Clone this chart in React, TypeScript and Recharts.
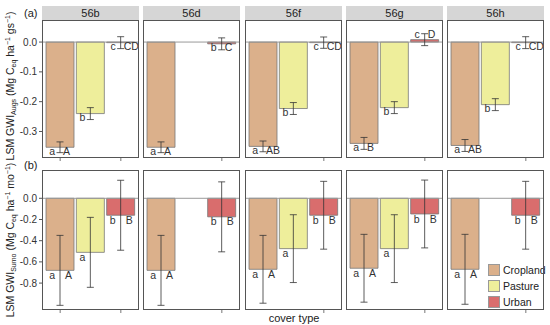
import React from 'react';
import { BarChart, Bar, XAxis, YAxis, Cell, ErrorBar, ReferenceLine, LabelList, Legend } from 'recharts';

const COVER = ['Cropland', 'Pasture', 'Urban'];
const COLORS = ['#dbb08b', '#eeee9b', '#d96d6d'];
const PANELS = ['56b', '56d', '56f', '56g', '56h'];

// (a) growing season
const GS_CROP = [-0.353, -0.353, -0.35, -0.34, -0.347];
const GS_CROP_ERR = [0.018, 0.018, 0.018, 0.02, 0.02];
const GS_PAST = [-0.24, null, -0.223, -0.22, -0.21];
const GS_PAST_ERR = [0.02, null, 0.02, 0.02, 0.02];
const GS_URB = [-0.002, -0.006, -0.002, 0.008, -0.002];
const GS_URB_ERR = [0.02, 0.02, 0.019, 0.02, 0.02];
const GS_LO = [['a', 'b', 'c'], ['a', null, 'b'], ['a', 'b', 'c'], ['a', 'b', 'c'], ['a', 'b', 'c']];
const GS_UP = [['A', null, 'CD'], ['A', null, 'C'], ['AB', null, 'CD'], ['B', null, 'D'], ['AB', null, 'CD']];

// (b) monthly
const MO_CROP = [-0.68, -0.68, -0.67, -0.66, -0.67];
const MO_CROP_ERR = [0.33, 0.33, 0.32, 0.32, 0.33];
const MO_PAST = [-0.51, null, -0.475, -0.475, null];
const MO_PAST_ERR = [0.33, null, 0.32, 0.32, null];
const MO_URB = [-0.16, -0.175, -0.16, -0.148, -0.16];
const MO_URB_ERR = [0.33, 0.33, 0.32, 0.32, 0.32];
const MO_LO = [['a', 'a', 'b'], ['a', null, 'b'], ['a', 'a', 'b'], ['a', 'a', 'b'], ['a', null, 'b']];
const MO_UP = [['A', null, 'B'], ['A', null, 'B'], ['A', null, 'B'], ['A', null, 'B'], ['A', null, 'B']];

const GS_TICKS = [-0.3, -0.2, -0.1, 0];
const MO_TICKS = [-0.8, -0.6, -0.4, -0.2, 0];

const LEFTS = [42, 143, 245, 346, 447];
const PW = 97;
const FONT = '"Liberation Sans", Arial, sans-serif';

function rows(i: number, crop: any[], cropErr: any[], past: any[], pastErr: any[], urb: any[], urbErr: any[], lo: any[][], up: any[][]) {
  const vals = [crop[i], past[i], urb[i]];
  const errs = [cropErr[i], pastErr[i], urbErr[i]];
  return COVER.map((c, k) => ({ cover: c, value: vals[k], err: errs[k], lo: lo[i][k], up: up[i][k] }));
}

// letters sit just past the bar end, either side of the error bar
const letter = (side: 'l' | 'r', gapL: number, gapR: number, below: number) => (props: any) => {
  const { x, y, width, height, value } = props;
  if (!value || x == null) return null;
  const cx = x + width / 2;
  const ty = height > 0 ? y - 5 : y + below;
  return (
    <text x={side === 'l' ? cx - gapL : cx + gapR} y={ty} dy={3.6} textAnchor={side === 'l' ? 'end' : 'start'}
      fontSize={10.5} fill="#333" fontFamily={FONT}>{value}</text>
  );
};

function LegendBox() {
  return (
    <div style={{ fontFamily: FONT, fontSize: 10.5, color: '#222' }}>
      {COVER.map((c, k) => (
        <div key={c} style={{ display: 'flex', alignItems: 'center', height: 16 }}>
          <span style={{ width: 10, height: 10, background: COLORS[k], border: '1px solid #999', marginRight: 3 }} />
          <span>{c}</span>
        </div>
      ))}
    </div>
  );
}

function Panel({ data, top, height, domain, ticks, col, first, below, gapL, gapR, legend }: any) {
  const yw = first ? 26 : 0;
  return (
    <div style={{ position: 'absolute', left: LEFTS[col] - yw, top }}>
      <BarChart width={PW + yw} height={height + 5} data={data} margin={{ top: 0, right: 0, bottom: 0, left: 0 }} barSize={28}>
        <XAxis dataKey="cover" height={5} tickSize={3} tick={() => <g />} axisLine={false}
          tickLine={{ stroke: '#777' }} padding={{ left: 3, right: 3 }} />
        <YAxis width={yw} hide={!first} domain={domain} ticks={ticks} allowDataOverflow type="number"
          axisLine={false} tickSize={3} tickLine={{ stroke: '#555' }} interval={0}
          tick={{ fontSize: 10, fill: '#333', fontFamily: FONT }} tickFormatter={(v: number) => v.toFixed(1)} />
        <ReferenceLine y={0} stroke="#999" strokeWidth={1} />
        <Bar dataKey="value" stroke="#777" strokeWidth={0.8} isAnimationActive={false}>
          {data.map((d: any, k: number) => <Cell key={k} fill={COLORS[k]} />)}
          <ErrorBar dataKey="err" width={3.5} stroke="#333" strokeWidth={0.8} direction="y" />
          <LabelList dataKey="lo" content={letter('l', gapL, gapR, below)} />
          <LabelList dataKey="up" content={letter('r', gapL, gapR, below)} />
        </Bar>
        {legend && (
          <Legend layout="vertical" align="center" verticalAlign="middle" content={() => <LegendBox />}
            wrapperStyle={{ left: 41, top: 92, width: 60 }} />
        )}
      </BarChart>
      <div style={{ position: 'absolute', left: yw, top: 0, width: PW - 2, height: height - 2, border: '1px solid #555', pointerEvents: 'none' }} />
    </div>
  );
}

export default function App() {
  return (
    <div style={{ position: 'absolute', left: 0, top: 0, width: 550, height: 325, background: '#fff', fontFamily: FONT }}>
      {PANELS.map((p, i) => (
        <div key={p} style={{ position: 'absolute', left: LEFTS[i], top: 6, width: PW, height: 14, background: '#d6d6d6',
          fontSize: 11, color: '#222', textAlign: 'center', lineHeight: '14px' }}>{p}</div>
      ))}
      {PANELS.map((p, i) => (
        <Panel key={'a' + p} col={i} first={i === 0} top={20} height={138} domain={[-0.389, 0.074]} ticks={GS_TICKS}
          below={4} gapL={5} gapR={3}
          data={rows(i, GS_CROP, GS_CROP_ERR, GS_PAST, GS_PAST_ERR, GS_URB, GS_URB_ERR, GS_LO, GS_UP)} />
      ))}
      {PANELS.map((p, i) => (
        <Panel key={'b' + p} col={i} first={i === 0} top={170} height={140} domain={[-1.054, 0.267]} ticks={MO_TICKS}
          below={5} gapL={5} gapR={5} legend={i === 4}
          data={rows(i, MO_CROP, MO_CROP_ERR, MO_PAST, MO_PAST_ERR, MO_URB, MO_URB_ERR, MO_LO, MO_UP)} />
      ))}
      <svg width={550} height={325} style={{ position: 'absolute', left: 0, top: 0, pointerEvents: 'none' }}>
        <g fontFamily={FONT} fill="#222">
          <text x={24} y={17} fontSize={11}>(a)</text>
          <text x={24} y={169} fontSize={11}>(b)</text>
          <text x={294} y={322} fontSize={11} textAnchor="middle">cover type</text>
          <text transform="translate(14,86) rotate(-90)" textAnchor="middle" fontSize={10.5}>
            LSM GWI<tspan fontSize={7} dy={2}>Augs</tspan><tspan dy={-2}> (Mg C</tspan><tspan fontSize={7} dy={2}>eq</tspan>
            <tspan dy={-2}> ha</tspan><tspan fontSize={7} dy={-4}>−1</tspan><tspan dy={4}> gs</tspan>
            <tspan fontSize={7} dy={-4}>−1</tspan><tspan dy={4}>)</tspan>
          </text>
          <text transform="translate(14,240) rotate(-90)" textAnchor="middle" fontSize={10.5}>
            LSM GWI<tspan fontSize={7} dy={2}>Sumo</tspan><tspan dy={-2}> (Mg C</tspan><tspan fontSize={7} dy={2}>eq</tspan>
            <tspan dy={-2}> ha</tspan><tspan fontSize={7} dy={-4}>−1</tspan><tspan dy={4}> mo</tspan>
            <tspan fontSize={7} dy={-4}>−1</tspan><tspan dy={4}>)</tspan>
          </text>
        </g>
      </svg>
    </div>
  );
}
